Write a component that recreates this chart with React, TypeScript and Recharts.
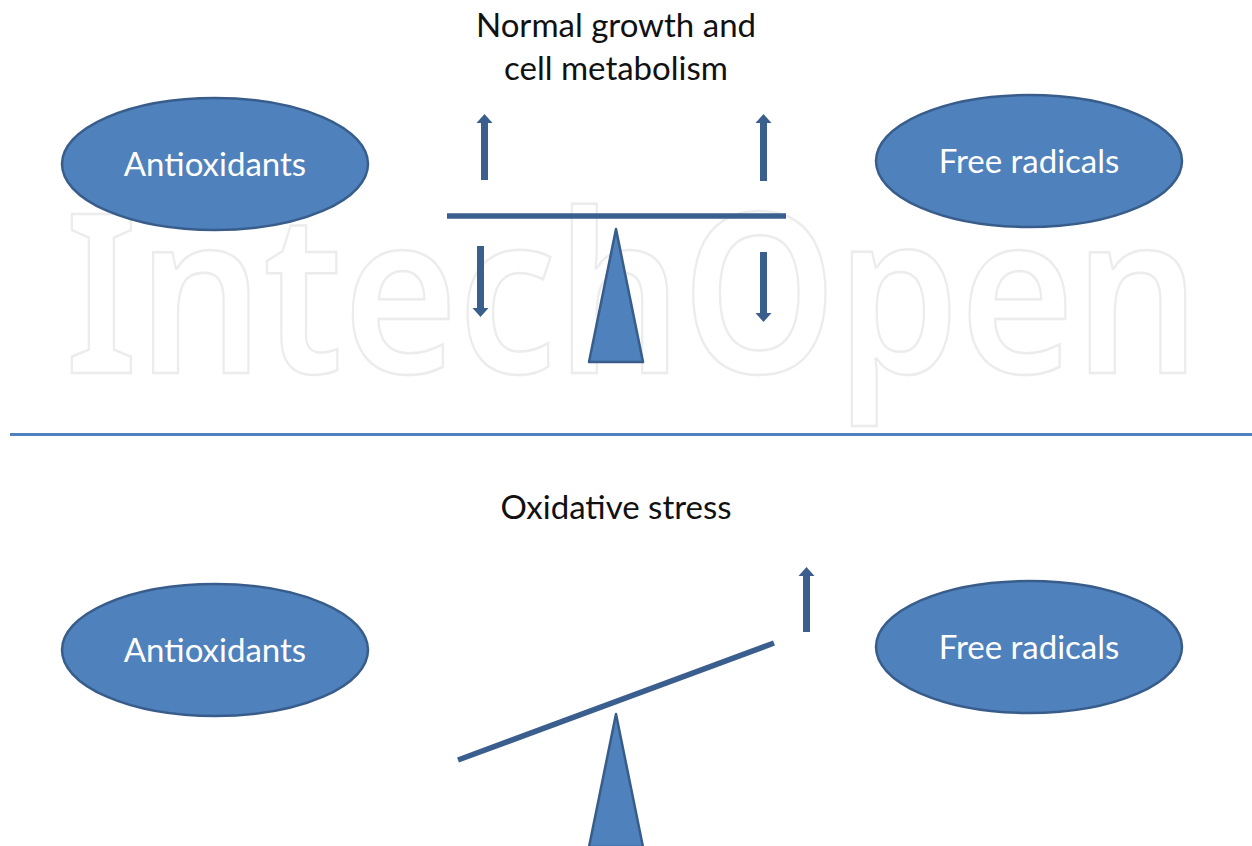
import React from "react";
import { ScatterChart, Scatter, XAxis, YAxis, ReferenceLine } from "recharts";

const W = 1252;
const H = 846;

// titles (baseline positions)
const titleText = ["Normal growth and", "cell metabolism", "Oxidative stress"];
const titleX = [616, 616, 616];
const titleY = [37, 80, 519];

// ovals
const ovalText = ["Antioxidants", "Free radicals", "Antioxidants", "Free radicals"];
const ovalX = [215, 1029, 215, 1029];
const ovalY = [164, 161, 650, 647];

// fulcrum apex
const fulcrumX = [616, 616];
const fulcrumY = [229, 714];

// beams: [x1, y1, x2, y2]
const beamX1 = [447, 458];
const beamY1 = [216, 760];
const beamX2 = [786, 774];
const beamY2 = [216, 643];

// arrows: tail -> tip
const arrowX = [484.5, 763.5, 480.5, 763.5, 806.5];
const arrowFrom = [180, 181, 246, 252, 632];
const arrowTo = [114, 114, 317, 322, 567];

const watermark = "IntechOpen";

const FILL = "#4f81bd";
const EDGE = "#385d8a";
const DARK = "#3a5f8e";
const FONT = "Lato, 'Open Sans', sans-serif";

const titles = titleText.map((t, i) => ({ x: titleX[i], y: titleY[i], t }));
const ovals = ovalText.map((t, i) => ({ x: ovalX[i], y: ovalY[i], t }));
const fulcrums = fulcrumX.map((x, i) => ({ x, y: fulcrumY[i] }));

const Oval = (p: any) => (
  <g>
    <ellipse cx={p.cx} cy={p.cy} rx={153} ry={66} fill={FILL} stroke={EDGE} strokeWidth={2.5} />
    <text x={p.cx} y={p.cy + 12} textAnchor="middle" fill="#fff" fontFamily={FONT} fontSize={33}>
      {p.payload.t}
    </text>
  </g>
);

const Title = (p: any) => (
  <text x={p.cx} y={p.cy} textAnchor="middle" fill="#111" fontFamily={FONT} fontSize={33}>
    {p.payload.t}
  </text>
);

const Fulcrum = (p: any) => (
  <polygon
    points={`${p.cx},${p.cy} ${p.cx + 27},${p.cy + 133} ${p.cx - 27},${p.cy + 133}`}
    fill={FILL}
    stroke={EDGE}
    strokeWidth={2.5}
    strokeLinejoin="round"
  />
);

// faint outlined watermark, drawn along a baseline segment
const SX = 0.85;
const Mark = (p: any) => (
  <text
    transform={`translate(${p.x1},${p.y1}) scale(${SX},1)`}
    x={0}
    y={0}
    fill="none"
    stroke="#ececec"
    strokeWidth={2.5}
    fontFamily="'Noto Sans', sans-serif"
    fontWeight={600}
    fontSize={222}
    textLength={(p.x2 - p.x1) / SX}
    lengthAdjust="spacingAndGlyphs"
  >
    {watermark}
  </text>
);

const Arrow = (p: any) => {
  const { x1, y1, x2, y2 } = p;
  const dir = y2 < y1 ? -1 : 1;
  const headLen = 9;
  const baseY = y2 - dir * headLen;
  return (
    <g>
      <line x1={x1} y1={y1} x2={x2} y2={baseY} stroke={DARK} strokeWidth={7} />
      <polygon points={`${x2},${y2} ${x2 + 8},${baseY} ${x2 - 8},${baseY}`} fill={DARK} />
    </g>
  );
};

export default function App() {
  return (
    <div style={{ position: "absolute", left: 0, top: 0, width: W, height: H, background: "#fff" }}>
      <ScatterChart width={W} height={H} margin={{ top: 0, right: 0, bottom: 0, left: 0 }}>
        <XAxis type="number" dataKey="x" domain={[0, W]} hide />
        <YAxis type="number" dataKey="y" domain={[0, H]} reversed hide />
        <ReferenceLine
          segment={[{ x: 65, y: 373 }, { x: 1200, y: 373 }]}
          shape={Mark}
          ifOverflow="visible"
        />
        <ReferenceLine
          segment={[{ x: 10, y: 434.5 }, { x: W, y: 434.5 }]}
          stroke={FILL}
          strokeWidth={3}
          ifOverflow="visible"
        />
        {beamX1.map((x, i) => (
          <ReferenceLine
            key={`b${i}`}
            segment={[{ x, y: beamY1[i] }, { x: beamX2[i], y: beamY2[i] }]}
            stroke={DARK}
            strokeWidth={5.5}
            ifOverflow="visible"
          />
        ))}
        {arrowX.map((x, i) => (
          <ReferenceLine
            key={`a${i}`}
            segment={[{ x, y: arrowFrom[i] }, { x, y: arrowTo[i] }]}
            shape={Arrow}
            ifOverflow="visible"
          />
        ))}
        <Scatter data={fulcrums} shape={Fulcrum} isAnimationActive={false} />
        <Scatter data={ovals} shape={Oval} isAnimationActive={false} />
        <Scatter data={titles} shape={Title} isAnimationActive={false} />
      </ScatterChart>
    </div>
  );
}
